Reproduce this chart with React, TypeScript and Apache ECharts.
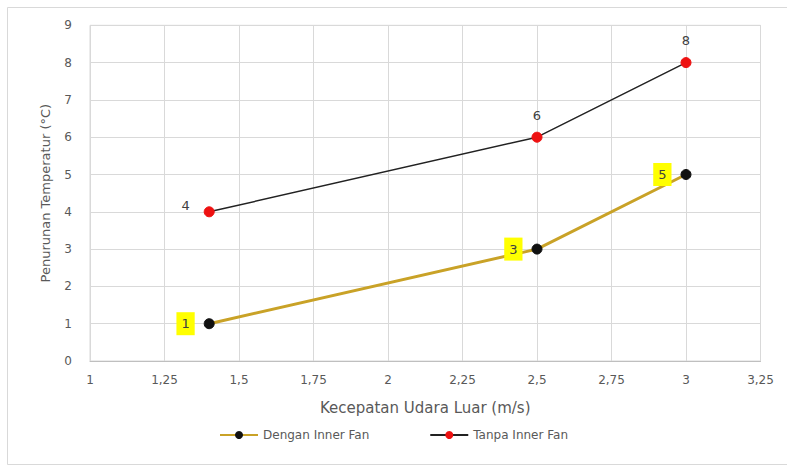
import React, { useEffect, useRef } from "react";
import * as echarts from "echarts";

const speeds = [1.4, 2.5, 3];
const denganInnerFan = [1, 3, 5];
const tanpaInnerFan = [4, 6, 8];
const seriesNames = ["Dengan Inner Fan", "Tanpa Inner Fan"];

export default function App() {
  const ref = useRef<HTMLDivElement>(null);
  useEffect(() => {
    if (!ref.current) return;
    const chart = echarts.init(ref.current, null, { renderer: "svg" });
    const font = "'DejaVu Sans', 'Open Sans', sans-serif";
    chart.setOption({
      animation: false,
      backgroundColor: "#ffffff",
      textStyle: { fontFamily: font },
      graphic: [
        {
          type: "rect",
          shape: { x: 7.5, y: 7.5, width: 800, height: 457 },
          style: { fill: "none", stroke: "#d9d9d9", lineWidth: 1 },
          silent: true,
        },
      ],
      grid: {
        left: 90,
        right: 26.5,
        top: 25.3,
        bottom: 107,
        show: true,
        borderColor: "#d9d9d9",
        borderWidth: 1,
      },
      xAxis: {
        type: "value",
        min: 1,
        max: 3.25,
        interval: 0.25,
        name: "Kecepatan Udara Luar (m/s)",
        nameLocation: "middle",
        nameGap: 39,
        nameTextStyle: { color: "#595959", fontSize: 15, fontFamily: font },
        axisLine: { show: true, lineStyle: { color: "#bfbfbf" } },
        axisTick: { show: false },
        axisLabel: {
          color: "#595959",
          fontSize: 12,
          margin: 13,
          fontFamily: font,
          formatter: (v: number) => String(v).replace(".", ","),
        },
        splitLine: { show: true, lineStyle: { color: "#d9d9d9" } },
      },
      yAxis: {
        type: "value",
        min: 0,
        max: 9,
        interval: 1,
        name: "Penurunan Temperatur (°C)",
        nameLocation: "middle",
        nameGap: 38,
        nameTextStyle: { color: "#595959", fontSize: 13, fontFamily: font },
        axisLine: { show: false },
        axisTick: { show: false },
        axisLabel: { color: "#595959", fontSize: 12, margin: 18, fontFamily: font },
        splitLine: { show: true, lineStyle: { color: "#d9d9d9" } },
      },
      legend: {
        bottom: 22,
        left: "center",
        itemWidth: 38,
        itemHeight: 10,
        itemGap: 60,
        textStyle: { color: "#595959", fontSize: 12, fontFamily: font },
        data: seriesNames,
      },
      series: [
        {
          name: seriesNames[0],
          type: "line",
          data: speeds.map((s, i) => [s, denganInnerFan[i]]),
          symbol: "circle",
          symbolSize: 10,
          itemStyle: { color: "#111111", borderColor: "#111111" },
          lineStyle: { color: "#C9A227", width: 3 },
          label: {
            show: true,
            position: "left",
            distance: 9,
            formatter: (p: any) => String(p.value[1]),
            color: "#404040",
            fontSize: 13,
            fontFamily: font,
            backgroundColor: "#FFFF00",
            padding: [5, 5],
          },
          z: 3,
        },
        {
          name: seriesNames[1],
          type: "line",
          data: speeds.map((s, i) =>
            i === 0
              ? {
                  value: [s, tanpaInnerFan[i]],
                  label: { position: "left", distance: 14, offset: [0, -6] },
                }
              : [s, tanpaInnerFan[i]]
          ),
          symbol: "circle",
          symbolSize: 10,
          itemStyle: { color: "#ee1111", borderColor: "#ee1111" },
          lineStyle: { color: "#222222", width: 1.5 },
          label: {
            show: true,
            position: "top",
            distance: 10,
            formatter: (p: any) => String(p.value[1]),
            color: "#404040",
            fontSize: 13,
            fontFamily: font,
          },
          z: 3,
        },
      ],
    });
    return () => chart.dispose();
  }, []);
  return (
    <div
      ref={ref}
      style={{ position: "fixed", left: 0, top: 0, width: 787, height: 468 }}
    />
  );
}
